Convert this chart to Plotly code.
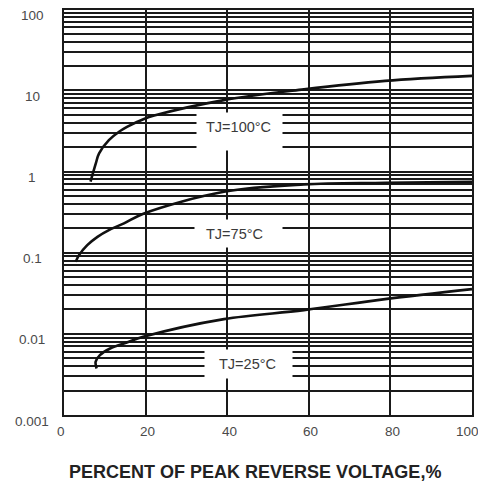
import math
import plotly.graph_objects as go

# ---- data ----
x_100 = [6.5, 7.8, 8.6, 11.0, 13.5, 16.3, 19.6, 22.1, 39.2, 58.8, 78.7, 100]
y_100 = [0.75, 1.26, 1.68, 2.44, 3.1, 3.74, 4.45, 4.9, 7.6, 10.3, 13.1, 15.1]

x_75 = [2.87, 3.68, 5.7, 8.2, 11.0, 14.7, 19.6, 39.2, 58.8, 78.7, 100]
y_75 = [0.0773, 0.0933, 0.124, 0.157, 0.19, 0.23, 0.305, 0.564, 0.695, 0.728, 0.75]

x_25 = [8.0, 7.75, 8.8, 11.3, 15.4, 19.4, 39.2, 58.8, 78.7, 100]
y_25 = [0.00374, 0.00452, 0.00546, 0.0066, 0.00783, 0.00918, 0.0152, 0.0196, 0.0268, 0.0356]

series_labels = ["TJ=100°C", "TJ=75°C", "TJ=25°C"]
label_x = [42.8, 41.7, 45.0]
label_y = [3.57, 0.17, 0.00431]
box_x = [43.0, 42.8, 45.2]
box_y = [3.11, 0.172, 0.00423]
box_w = [85, 87, 87]
box_h = [37, 27, 28]

x_ticks = [0, 20, 40, 60, 80, 100]
x_tick_labels = ["0", "20", "40", "60", "80", "100"]
y_ticks = [100, 10, 1, 0.1, 0.01, 0.001]
y_tick_labels = ["100", "10", "1", "0.1", "0.01", "0.001"]
x_title = "PERCENT OF PEAK REVERSE VOLTAGE,%"

# minor log grid values (1..9 per decade)
grid_vals = [m * 10 ** e for e in range(-3, 2) for m in range(1, 10)] + [100]

FONT = "Liberation Sans, Arial, sans-serif"
fig = go.Figure()
for xs, ys in [(x_100, y_100), (x_75, y_75), (x_25, y_25)]:
    fig.add_trace(go.Scatter(x=xs, y=ys, mode="lines",
                             line=dict(color="#111111", width=2.6, shape="spline", smoothing=1.0),
                             showlegend=False, hoverinfo="skip"))

annotations = []
for v, t in zip(y_ticks, y_tick_labels):
    annotations.append(dict(x=0, xref="paper", y=math.log10(v), yref="y", text=t,
                            showarrow=False, xanchor="center", yanchor="middle",
                            xshift=-32, yshift=-6,
                            font=dict(family=FONT, size=13.5, color="#4a4a4a")))
# x tick labels as annotations (last one kept inside the page)
for v, t in zip(x_ticks, x_tick_labels):
    last = v == x_ticks[-1]
    annotations.append(dict(x=v, xref="x", y=0, yref="paper", text=t,
                            showarrow=False, xanchor="right" if last else "center",
                            yanchor="middle", xshift=9 if last else (-3 if v == 0 else 2), yshift=-16,
                            font=dict(family=FONT, size=13.5, color="#4a4a4a")))
for bx, by, bw, bh in zip(box_x, box_y, box_w, box_h):
    annotations.append(dict(x=bx, y=math.log10(by), xref="x", yref="y", text=" ",
                            showarrow=False, width=bw, height=bh, bgcolor="white",
                            borderpad=0, xanchor="center", yanchor="middle"))
for lx, ly, t in zip(label_x, label_y, series_labels):
    annotations.append(dict(x=lx, y=math.log10(ly), xref="x", yref="y", text=t,
                            showarrow=False, xanchor="center", yanchor="middle",
                            font=dict(family=FONT, size=14.5, color="#3a3a3a")))
annotations.append(dict(x=0.469, y=-0.139, xref="paper", yref="paper", text="<b>" + x_title + "</b>",
                        showarrow=False, xanchor="center", yanchor="middle", borderpad=0,
                        font=dict(family=FONT, size=18, color="#222222")))

fig.update_layout(
    width=478, height=475,
    margin=dict(l=56, r=14, t=0, b=68),
    paper_bgcolor="white", plot_bgcolor="white",
    annotations=annotations,
    xaxis=dict(range=[0, 100], tickvals=x_ticks, showticklabels=False,
               showgrid=True, gridcolor="#1a1a1a", gridwidth=1.6, zeroline=False,
               showline=True, linecolor="#1a1a1a", linewidth=1.6, mirror=False, ticks=""),
    yaxis=dict(type="log", range=[-3, 2.016], tickvals=grid_vals, showticklabels=False,
               showgrid=True, gridcolor="#1a1a1a", gridwidth=1.6, zeroline=False,
               showline=True, linecolor="#1a1a1a", linewidth=1.6, mirror=True, ticks=""),
)
fig.write_html("out.html")
